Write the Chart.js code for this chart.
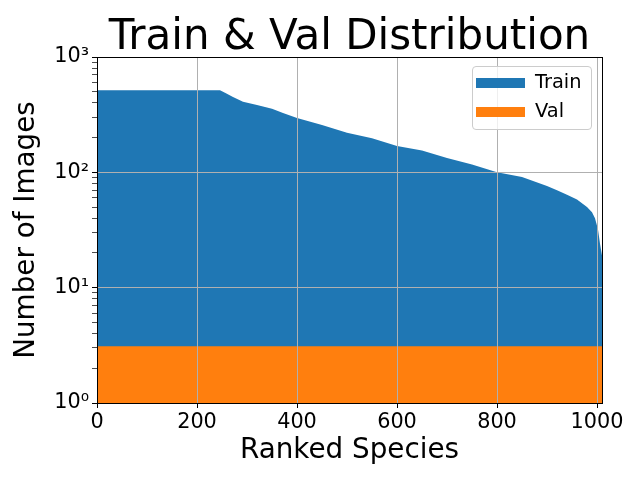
<!DOCTYPE html>
<html>
<head>
<meta charset="utf-8">
<script src="https://cdn.jsdelivr.net/npm/chart.js@4"></script>
<style>
  body { margin: 0; background: #fff; }
  #wrap { position: relative; width: 640px; height: 480px; font-family: "DejaVu Sans", sans-serif; }
  #legend {
    position: absolute; left: 472px; top: 66px; width: 118px; height: 62px;
    border: 1px solid #cccccc; border-radius: 4px; background: rgba(255,255,255,0.8);
  }
  .item { position: absolute; left: 2px; height: 24px; font-size: 19.4px; line-height: 24px; color: #000; }
  .item span.patch { position: absolute; left: 1px; top: 7px; width: 49px; height: 10px; }
  .item span.txt { position: absolute; left: 60px; top: -1px; white-space: nowrap; }
</style>
</head>
<body>
<div id="wrap">
  <canvas id="chart" width="640" height="480"></canvas>
  <div id="legend"></div>
</div>
<script>
// ranked species index -> image count
const trainRanks  = [0, 246, 256, 272, 292, 320, 350, 372, 400, 450, 500, 550, 600, 650, 700, 750, 800, 850, 900, 920, 940, 960, 980, 990, 996, 1002, 1006, 1010]
const trainCounts = [515, 515, 490, 450, 410, 383, 355, 327, 296, 257, 220, 197, 169, 155, 133, 117, 100, 91, 76, 70, 64, 58, 50, 45, 40, 32, 24, 19]
const valRanks  = [0, 1010]
const valCounts = [3.1, 3.1]

const seriesNames = ['Train', 'Val']
const seriesColors = ['#1f77b4', '#ff7f0e']

const xTicks = [0, 200, 400, 600, 800, 1000]
const yDecades = [1, 10, 100, 1000]
const yTickLabels = ['10\u2070', '10\u00b9', '10\u00b2', '10\u00b3']

const titleText = 'Train & Val Distribution'
const xTitle = 'Ranked Species'
const yTitle = 'Number of Images'

function points (xs, ys) {
  let pts = []
  for (let i = 0; i < xs.length; i++) {
    pts.push({ x: xs[i], y: ys[i] })
  }
  return pts
}

// log ticks: decades are major, 2..9 in between are minor
function logTicks () {
  let ticks = []
  for (let d of yDecades) {
    ticks.push({ value: d, major: true })
    if (d === 1000) break
    for (let m = 2; m <= 9; m++) ticks.push({ value: d * m, major: false })
  }
  return ticks
}

const fontFamily = '"DejaVu Sans", sans-serif'

const framePlugin = {
  id: 'frame',
  afterDraw (chart) {
    const { ctx, chartArea: a } = chart
    ctx.save()
    ctx.strokeStyle = '#000'
    ctx.lineWidth = 1
    ctx.strokeRect(Math.round(a.left) + 0.5, Math.round(a.top) + 0.5, Math.round(a.right - a.left), Math.round(a.bottom - a.top))
    // title centred over the axes, like matplotlib
    ctx.fillStyle = '#000'
    ctx.font = '42px ' + fontFamily
    ctx.textAlign = 'center'
    ctx.textBaseline = 'alphabetic'
    ctx.fillText(titleText, (a.left + a.right) / 2, a.top - 8)
    ctx.restore()
  }
}

const ctx = document.getElementById('chart')
new Chart(ctx, {
  type: 'line',
  data: {
    datasets: [
      {
        label: seriesNames[0],
        data: points(trainRanks, trainCounts),
        backgroundColor: seriesColors[0],
        borderColor: seriesColors[0],
        borderWidth: 0,
        pointRadius: 0,
        fill: 'start',
        order: 1
      },
      {
        label: seriesNames[1],
        data: points(valRanks, valCounts),
        backgroundColor: seriesColors[1],
        borderColor: seriesColors[1],
        borderWidth: 0,
        pointRadius: 0,
        fill: 'start',
        order: 0
      }
    ]
  },
  options: {
    responsive: false,
    animation: false,
    layout: { padding: { top: 57, right: 38, left: 0, bottom: 0 } },
    plugins: {
      legend: { display: false },
      tooltip: { enabled: false },
      title: { display: false }
    },
    scales: {
      x: {
        type: 'linear',
        min: 0,
        max: 1010,
        afterFit: scale => { scale.height = 77 },
        afterBuildTicks: scale => { scale.ticks = xTicks.map(v => ({ value: v })) },
        border: { color: '#000', width: 1, z: 2 },
        grid: { color: '#b0b0b0', lineWidth: 1, tickColor: '#000', tickLength: 5, z: 1 },
        ticks: {
          color: '#000',
          padding: 2,
          maxRotation: 0,
          autoSkip: false,
          font: { family: fontFamily, size: 20.8 },
          callback: value => String(value)
        },
        title: {
          display: true,
          text: xTitle,
          color: '#000',
          padding: { top: 0, bottom: 13 },
          font: { family: fontFamily, size: 27.8 }
        }
      },
      y: {
        type: 'logarithmic',
        min: 1,
        max: 1000,
        afterFit: scale => { scale.width = 97 },
        afterBuildTicks: scale => { scale.ticks = logTicks() },
        border: { color: '#000', width: 1, z: 2 },
        grid: {
          color: c => (c.tick && c.tick.major ? '#b0b0b0' : 'rgba(0,0,0,0)'),
          lineWidth: 1,
          tickColor: '#000',
          tickLength: 5,
          tickWidth: c => (c.tick && c.tick.major ? 1 : 0.7),
          z: 1
        },
        ticks: {
          color: '#000',
          padding: 3,
          autoSkip: false,
          font: { family: fontFamily, size: 20.8 },
          callback: (value) => {
            const i = yDecades.indexOf(value)
            return i >= 0 ? yTickLabels[i] : ''
          }
        },
        title: {
          display: true,
          text: yTitle,
          color: '#000',
          padding: { top: 10, bottom: 0 },
          font: { family: fontFamily, size: 27.8 }
        }
      }
    }
  },
  plugins: [framePlugin]
})

// legend as an overlay box in the upper right of the axes
const legend = document.getElementById('legend')
seriesNames.forEach((name, i) => {
  const item = document.createElement('div')
  item.className = 'item'
  item.style.top = (4 + i * 29) + 'px'
  item.innerHTML = '<span class="patch" style="background:' + seriesColors[i] + '"></span><span class="txt">' + name + '</span>'
  legend.appendChild(item)
})
</script>
</body>
</html>
